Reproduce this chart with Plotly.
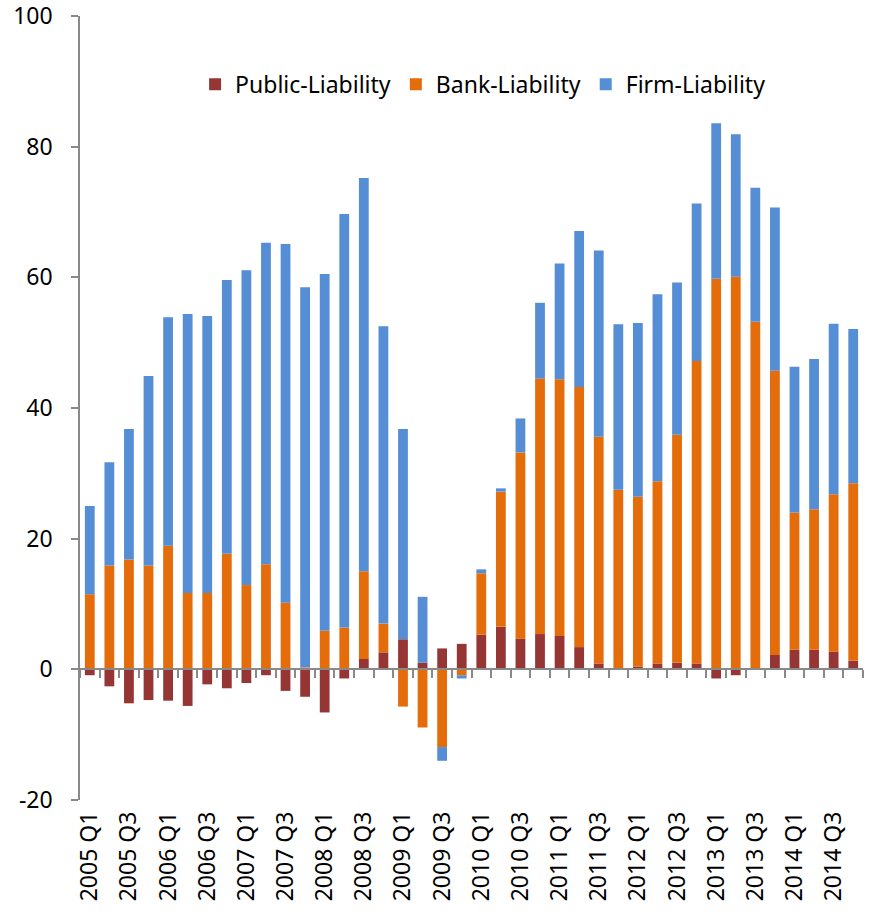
import plotly.graph_objects as go

# Quarterly categories 2005 Q1 .. 2014 Q4
quarters = [f"{y} Q{q}" for y in range(2005, 2015) for q in range(1, 5)]

public_liability = [
    -0.9, -2.6, -5.2, -4.7, -4.8, -5.6, -2.3, -2.9,
    -2.1, -0.9, -3.3, -4.2, -6.6, -1.4, 1.6, 2.6,
    4.6, 1.0, 3.2, 3.9, 5.3, 6.5, 4.7, 5.4,
    5.1, 3.4, 0.9, 0.1, 0.4, 0.9, 1.0, 0.9,
    -1.4, -0.9, 0.1, 2.2, 3.0, 3.0, 2.7, 1.3,
]
bank_liability = [
    11.5, 15.9, 16.8, 15.9, 18.9, 11.7, 11.7, 17.7,
    12.9, 16.1, 10.2, 0.3, 5.9, 6.4, 13.4, 4.4,
    -5.7, -8.9, -11.9, -0.9, 9.4, 20.7, 28.5, 39.1,
    39.3, 39.8, 34.7, 27.4, 26.0, 27.9, 34.9, 46.3,
    59.8, 60.1, 53.1, 43.5, 21.0, 21.5, 24.1, 27.2,
]
firm_liability = [
    13.5, 15.8, 20.0, 29.0, 35.0, 42.7, 42.4, 41.9,
    48.2, 49.2, 54.9, 58.2, 54.6, 63.3, 60.2, 45.5,
    32.2, 10.1, -2.1, -0.5, 0.6, 0.5, 5.2, 11.6,
    17.7, 23.9, 28.5, 25.3, 26.6, 28.6, 23.3, 24.1,
    23.8, 21.8, 20.5, 25.0, 22.3, 23.0, 26.1, 23.6,
]

# Label every other quarter (Q1 and Q3)
label_quarters = quarters[0::2]

y_ticks = [-20, 0, 20, 40, 60, 80, 100]
y_tick_text = ["-20", "0", "20", "40", "60", "80", "100"]

series = [
    ("Public-Liability", public_liability, "#963634"),
    ("Bank-Liability", bank_liability, "#E46C0A"),
    ("Firm-Liability", firm_liability, "#558ED5"),
]

FONT = "Noto Sans, Open Sans, sans-serif"
AXIS_GREY = "#898989"

fig = go.Figure()
for name, values, color in series:
    fig.add_trace(go.Bar(
        x=quarters, y=values, name=name,
        marker=dict(color=color, line=dict(width=0)),
    ))

# Invisible companion trace so the category axis through zero is drawn
fig.add_trace(go.Scatter(
    x=quarters, y=[0] * len(quarters), xaxis="x2", mode="markers",
    marker=dict(opacity=0), showlegend=False, hoverinfo="skip",
))

y_min, y_max = -20, 100

fig.update_layout(
    width=873, height=912,
    margin=dict(l=80, r=10, t=16, b=112, autoexpand=False),
    paper_bgcolor="white", plot_bgcolor="white",
    barmode="relative", bargap=0.5,
    font=dict(family=FONT, size=23, color="black"),
    showlegend=True,
    legend=dict(
        orientation="h", x=0.147, xanchor="left", y=0.913, yanchor="middle",
        font=dict(family=FONT, size=23, color="black"),
        bgcolor="rgba(0,0,0,0)", traceorder="normal",
    ),
    xaxis=dict(
        type="category", categoryorder="array", categoryarray=quarters,
        range=[-0.5, len(quarters) - 0.5],
        tickmode="array", tickvals=label_quarters, ticktext=label_quarters,
        tickangle=-90, ticks="", showline=False, showgrid=False, zeroline=False,
        tickfont=dict(family=FONT, size=23, color="black"),
        ticklabelstandoff=6, automargin=False,
    ),
    xaxis2=dict(
        type="category", categoryorder="array", categoryarray=quarters,
        range=[-0.5, len(quarters) - 0.5],
        overlaying="x", anchor="free",
        position=(0 - y_min) / (y_max - y_min),
        tickmode="linear", tick0=0, dtick=1, tickson="boundaries",
        ticks="outside", ticklen=8, tickwidth=1.5, tickcolor=AXIS_GREY,
        showline=True, linecolor=AXIS_GREY, linewidth=1.5,
        showticklabels=False, showgrid=False, zeroline=False,
        automargin=False,
    ),
    yaxis=dict(
        range=[y_min, y_max], tickmode="array",
        tickvals=y_ticks, ticktext=y_tick_text,
        ticks="outside", ticklen=7, tickwidth=1.5, tickcolor=AXIS_GREY,
        showline=True, linecolor=AXIS_GREY, linewidth=1.5,
        showgrid=False, zeroline=False,
        tickfont=dict(family=FONT, size=23, color="black"),
        ticklabelstandoff=14, ticklabeloverflow="allow", automargin=False,
    ),
)

fig.write_html("out.html")
